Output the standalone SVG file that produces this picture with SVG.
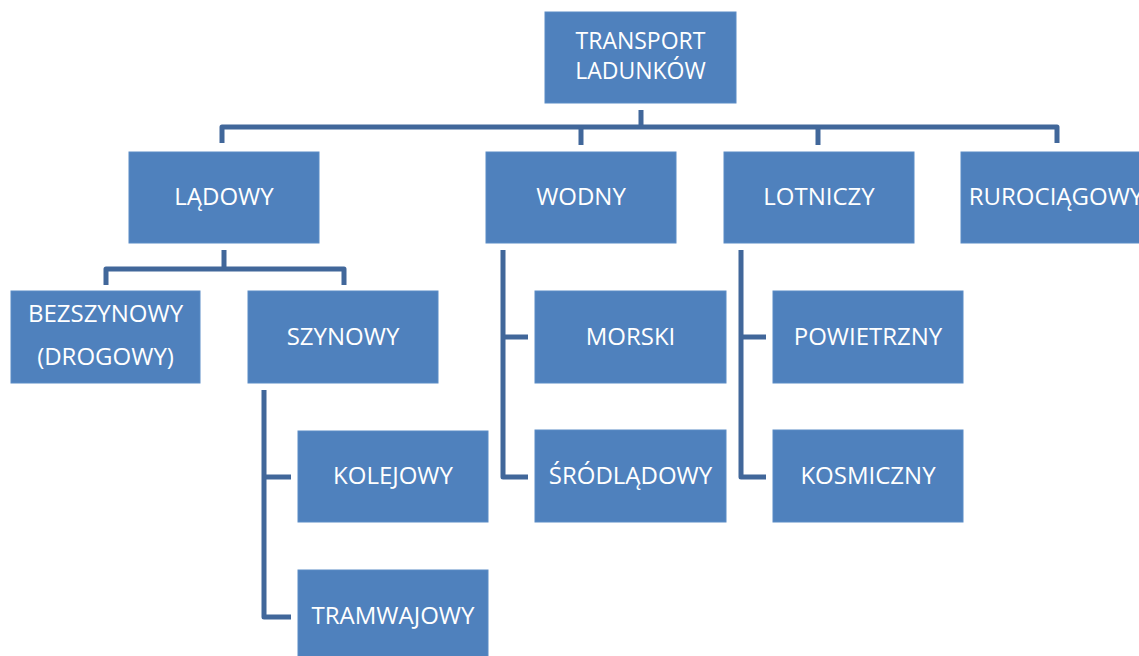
<svg xmlns="http://www.w3.org/2000/svg" width="1139" height="656" viewBox="0 0 1139 656">
<style>
.box{fill:#4F81BD;stroke:#5B8CC6;stroke-width:1}
.t{font-family:"Open Sans","Liberation Sans",sans-serif;font-size:24px;fill:#FFFFFF;text-anchor:middle}
.s{font-size:23px}
.c{fill:none;stroke:#41679A;stroke-width:5;stroke-linejoin:round;stroke-linecap:butt}
</style>
<rect width="1139" height="656" fill="#FFFFFF"/>
<g id="connectors">
<path class="c" d="M641 110V127"/>
<path class="c" d="M222 143V127H1057V143"/>
<path class="c" d="M581 127V145"/>
<path class="c" d="M818 127V145"/>
<path class="c" d="M224 250V269"/>
<path class="c" d="M106 285V269H344V285"/>
<path class="c" d="M264 390V617H291"/>
<path class="c" d="M264 477H291"/>
<path class="c" d="M503 250V477H528"/>
<path class="c" d="M503 337H528"/>
<path class="c" d="M741 250V477H766"/>
<path class="c" d="M741 337H766"/>
</g>
<g id="n-transport"><rect class="box" x="545" y="12" width="191" height="91"/><text class="t s" x="640.5" y="49">TRANSPORT</text><text class="t s" x="640.5" y="79">LADUNKÓW</text></g>
<g id="n-ladowy"><rect class="box" x="129" y="152" width="190" height="91"/><text class="t" x="224" y="205">LĄDOWY</text></g>
<g id="n-wodny"><rect class="box" x="486" y="152" width="190" height="91"/><text class="t" x="581" y="205">WODNY</text></g>
<g id="n-lotniczy"><rect class="box" x="724" y="152" width="190" height="91"/><text class="t" x="819" y="205">LOTNICZY</text></g>
<g id="n-rurociagowy"><rect class="box" x="961" y="152" width="190" height="91"/><text class="t" x="1056" y="205">RUROCIĄGOWY</text></g>
<g id="n-bezszynowy"><rect class="box" x="11" y="291" width="189" height="92"/><text class="t" x="105.5" y="322">BEZSZYNOWY</text><text class="t" x="105.5" y="365">(DROGOWY)</text></g>
<g id="n-szynowy"><rect class="box" x="248" y="291" width="190" height="92"/><text class="t" x="343" y="345">SZYNOWY</text></g>
<g id="n-morski"><rect class="box" x="535" y="291" width="191" height="92"/><text class="t" x="630.5" y="345">MORSKI</text></g>
<g id="n-powietrzny"><rect class="box" x="773" y="291" width="190" height="92"/><text class="t" x="868" y="345">POWIETRZNY</text></g>
<g id="n-kolejowy"><rect class="box" x="298" y="431" width="190" height="91"/><text class="t" x="393" y="484">KOLEJOWY</text></g>
<g id="n-srodladowy"><rect class="box" x="535" y="430" width="191" height="92"/><text class="t" x="630.5" y="484">ŚRÓDLĄDOWY</text></g>
<g id="n-kosmiczny"><rect class="box" x="773" y="430" width="190" height="92"/><text class="t" x="868" y="484">KOSMICZNY</text></g>
<g id="n-tramwajowy"><rect class="box" x="298" y="570" width="190" height="92"/><text class="t" x="393" y="624">TRAMWAJOWY</text></g>
</svg>
